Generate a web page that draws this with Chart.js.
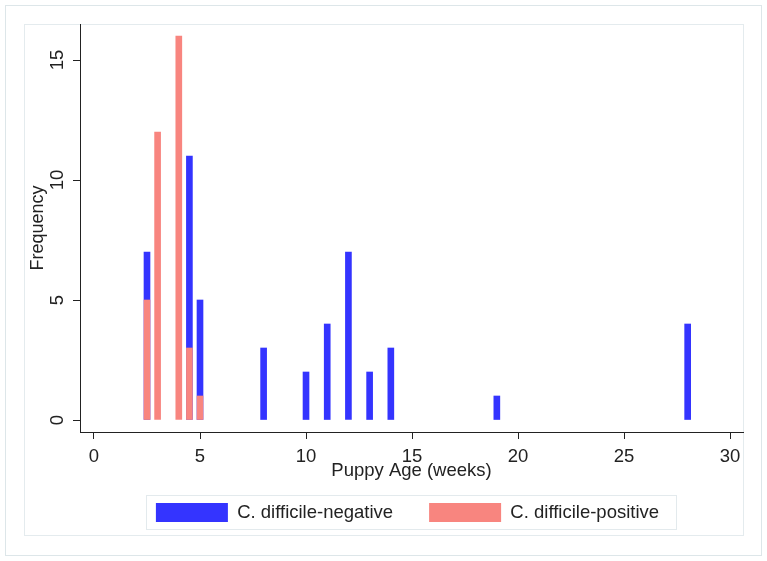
<!DOCTYPE html>
<html>
<head>
<meta charset="utf-8">
<script src="https://cdn.jsdelivr.net/npm/chart.js@4.4.0/dist/chart.umd.min.js"></script>
<style>
  html, body { margin: 0; padding: 0; background: #fff; }
</style>
</head>
<body>
<canvas id="myChart" width="767" height="561"></canvas>
<script>
// puppy age (weeks) and counts
var negAges = [2.5, 4.5, 5, 8, 10, 11, 12, 13, 14, 19, 28];
var negCounts = [7, 11, 5, 3, 2, 4, 7, 2, 3, 1, 4];
var posAges = [2.5, 3, 4, 4.5, 5];
var posCounts = [5, 12, 16, 3, 1];
var xTicks = [0, 5, 10, 15, 20, 25, 30];
var yTicks = [0, 5, 10, 15];

var FONT = "'Liberation Sans', Arial, sans-serif";
var INK = '#222';

function points(xs, ys) {
    return xs.map(function (x, i) { return { x: x, y: ys[i] }; });
}

// stata-ish frames around the graph and the legend
var frames = {
    id: 'frames',
    beforeDraw: function (chart) {
        var c = chart.ctx;
        c.save();
        c.fillStyle = '#fff';
        c.fillRect(0, 0, chart.width, chart.height);
        c.lineWidth = 1;
        c.strokeStyle = '#dde6e9';
        c.strokeRect(5.5, 5.5, 756, 550);
        c.strokeStyle = '#e4ebee';
        c.strokeRect(24.5, 24.5, 719, 511);
        c.restore();
    },
    afterLayout: function (chart) {
        var lg = chart.legend;
        var pad = lg.options.labels.padding;
        lg.left = chart.chartArea.left - 4;
        lg.right = chart.chartArea.right - 4;
        lg.width = lg.right - lg.left;
        lg.top = 503 - pad;
        lg.bottom = lg.top + lg.height;
    },
    afterDraw: function (chart) {
        var hb = chart.legend.legendHitBoxes;
        if (!hb || !hb.length) return;
        var first = hb[0], last = hb[hb.length - 1];
        var c = chart.ctx;
        var x0 = Math.round(first.left - 10) + 0.5;
        var x1 = Math.round(last.left + last.width + 17) + 0.5;
        var y0 = Math.round(first.top - 8) + 0.5;
        c.save();
        c.strokeStyle = '#e3eaed';
        c.lineWidth = 1;
        c.strokeRect(x0, y0, x1 - x0, 34);
        c.restore();
    }
};

var ctx = document.getElementById('myChart').getContext('2d');
var myChart = new Chart(ctx, {
    type: 'bar',
    data: {
        datasets: [{
            label: 'C. difficile-negative',
            data: points(negAges, negCounts),
            backgroundColor: '#3434ff',
            barThickness: 6,
            grouped: false,
            order: 2
        },
        {
            label: 'C. difficile-positive',
            data: points(posAges, posCounts),
            backgroundColor: '#f8857f',
            barThickness: 6,
            grouped: false,
            order: 1
        }]
    },
    plugins: [frames],
    options: {
        responsive: false,
        animation: false,
        layout: { padding: { left: 0, top: 24, right: 24, bottom: 0 } },
        plugins: {
            tooltip: { enabled: false },
            legend: {
                position: 'bottom',
                labels: {
                    boxWidth: 72,
                    boxHeight: 19,
                    padding: 36,
                    color: INK,
                    font: { family: FONT, size: 18.5 },
                    sort: function (a, b) { return a.datasetIndex - b.datasetIndex; }
                }
            }
        },
        scales: {
            x: {
                type: 'linear',
                min: -0.66,
                max: 30.61,
                offset: false,
                afterBuildTicks: function (s) {
                    s.ticks = xTicks.map(function (v) { return { value: v }; });
                },
                afterFit: function (s) {
                    // plot bottom sits 129px above the canvas bottom
                    s.height = 129 - s.chart.legend.height;
                },
                grid: { display: true, drawOnChartArea: false, drawTicks: true, tickLength: 7, color: INK, offset: false },
                border: { display: true, color: INK, width: 1 },
                ticks: { color: INK, font: { family: FONT, size: 18.5 }, padding: 7, maxRotation: 0, autoSkip: false },
                title: {
                    display: true,
                    text: 'Puppy Age (weeks)',
                    color: INK,
                    font: { family: FONT, size: 18.5 },
                    padding: { top: 0, bottom: 14 }
                }
            },
            y: {
                min: -0.5,
                max: 16.5,
                afterBuildTicks: function (s) {
                    s.ticks = yTicks.map(function (v) { return { value: v }; });
                },
                afterFit: function (s) { s.width = 80; },
                grid: { display: true, drawOnChartArea: false, drawTicks: true, tickLength: 7, color: INK },
                border: { display: true, color: INK, width: 1 },
                ticks: {
                    color: INK,
                    font: { family: FONT, size: 18.5 },
                    padding: 5,
                    minRotation: 90,
                    maxRotation: 90,
                    crossAlign: 'center'
                },
                title: {
                    display: true,
                    text: 'Frequency',
                    color: INK,
                    font: { family: FONT, size: 18 },
                    padding: { top: 27, bottom: 0 }
                }
            }
        }
    }
});
</script>
</body>
</html>
